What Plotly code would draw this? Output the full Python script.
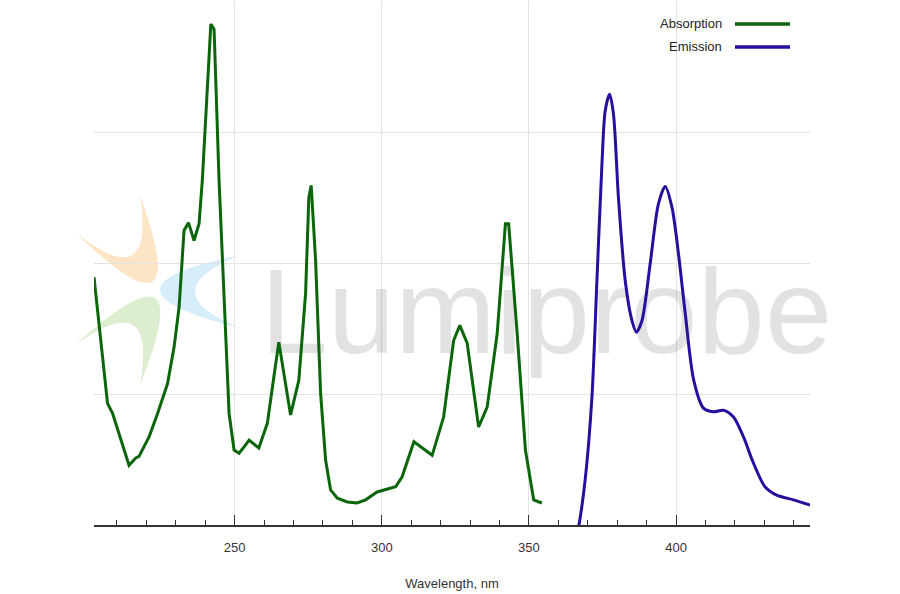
import plotly.graph_objects as go

# ---- data ----
abs_wl = [202.2, 206.8, 208.5, 210.7, 214.1, 216.4, 217.5, 220.9, 223.8, 227.2,
          229.4, 231.1, 232.8, 234.3, 236.2, 237.9, 239.0, 241.9, 243.0, 244.7,
          245.8, 246.9, 248.1, 249.8, 251.5, 253.2, 254.9, 258.2, 261.1, 263.3,
          265.0, 269.0, 271.8, 274.1, 275.2, 276.0, 277.5, 279.2, 280.9, 282.6,
          284.9, 288.3, 291.6, 294.5, 298.4, 304.7, 306.9, 310.9, 317.1, 321.0,
          324.4, 326.5, 329.0, 332.9, 335.8, 339.2, 342.0, 343.1, 346.0, 348.8,
          351.6, 354.4]
abs_val = [0.473, 0.232, 0.213, 0.175, 0.114, 0.128, 0.131, 0.168, 0.213, 0.270,
           0.339, 0.415, 0.562, 0.577, 0.543, 0.575, 0.657, 0.956, 0.946, 0.657,
           0.511, 0.339, 0.213, 0.143, 0.137, 0.149, 0.162, 0.147, 0.194, 0.282,
           0.349, 0.210, 0.276, 0.442, 0.625, 0.648, 0.505, 0.251, 0.124, 0.067,
           0.051, 0.044, 0.042, 0.048, 0.063, 0.073, 0.092, 0.159, 0.133, 0.206,
           0.352, 0.381, 0.347, 0.187, 0.225, 0.365, 0.575, 0.575, 0.365, 0.143,
           0.048, 0.042]

em_wl = [365.5, 366.9, 369.1, 371.4, 373.1, 374.8, 375.9, 377.4, 378.7, 380.4,
         382.7, 385.0, 386.5, 388.4, 391.2, 394.0, 396.3, 398.6, 400.8, 403.1,
         406.0, 409.3, 412.7, 416.1, 419.5, 422.9, 426.3, 430.2, 434.2, 439.9,
         445.5]
em_val = [-0.04, -0.003, 0.086, 0.244, 0.467, 0.689, 0.790, 0.822, 0.785, 0.625,
          0.467, 0.390, 0.368, 0.390, 0.499, 0.613, 0.646, 0.606, 0.518, 0.404,
          0.276, 0.223, 0.216, 0.219, 0.206, 0.168, 0.118, 0.073, 0.057, 0.048,
          0.038]

series_names = ["Absorption", "Emission"]
series_colors = ["#0b650b", "#2a0c9e"]
x_title = "Wavelength, nm"
watermark = "Lumiprobe"

W, H = 900, 594
ML, MR, MT, MB = 94, 90, 1, 69
PW, PH = W - ML - MR, H - MT - MB


def px(x, y):
    """pixel -> paper coordinates (decoration only)"""
    return (x - ML) / PW, (H - MB - y) / PH


def petal(t1, oc, t2, ic):
    pts = [px(*p) for p in (t1, oc, t2, ic)]
    s = "M {:.4f},{:.4f} Q {:.4f},{:.4f} {:.4f},{:.4f} Q {:.4f},{:.4f} {:.4f},{:.4f} Z"
    return s.format(pts[0][0], pts[0][1], pts[1][0], pts[1][1], pts[2][0], pts[2][1],
                    pts[3][0], pts[3][1], pts[0][0], pts[0][1])


fig = go.Figure()

# watermark text (behind the curves)
fig.add_trace(go.Scatter(
    x=[355.9], y=[0.386], mode="text", text=[watermark], hoverinfo="skip",
    textfont=dict(family="Liberation Sans", size=121, color="rgba(0,0,0,0.115)"),
    cliponaxis=False, showlegend=False))

fig.add_trace(go.Scatter(x=abs_wl, y=abs_val, mode="lines", name=series_names[0],
                         line=dict(color=series_colors[0], width=3), showlegend=False))
fig.add_trace(go.Scatter(x=em_wl, y=em_val, mode="lines", name=series_names[1],
                         line=dict(color=series_colors[1], width=3, shape="spline",
                                   smoothing=0.8), showlegend=False))

shapes = [
    dict(type="path", xref="paper", yref="paper", layer="below", line=dict(width=0),
         fillcolor="rgba(250,185,100,0.38)",
         path=petal((76, 233), (196, 350), (140, 195), (156, 296))),
    dict(type="path", xref="paper", yref="paper", layer="below", line=dict(width=0),
         fillcolor="rgba(150,200,110,0.32)",
         path=petal((75, 345), (202, 231), (140, 385), (158, 285))),
    dict(type="path", xref="paper", yref="paper", layer="below", line=dict(width=0),
         fillcolor="rgba(130,200,235,0.32)",
         path=petal((240, 255), (80, 288), (240, 328), (150, 292))),
]

annotations = []
for i, (name, col) in enumerate(zip(series_names, series_colors)):
    yy = 24 + 23 * i
    x0, y0 = px(735, yy)
    x1, _ = px(790, yy)
    xt, _ = px(724, yy)
    shapes.append(dict(type="line", xref="paper", yref="paper", x0=x0, x1=x1, y0=y0, y1=y0,
                       line=dict(color=col, width=3.5)))
    annotations.append(dict(xref="paper", yref="paper", x=xt, y=y0, text=name,
                            xanchor="right", yanchor="middle", showarrow=False,
                            font=dict(family="Liberation Sans", size=13, color="#222")))

fig.update_layout(
    width=W, height=H,
    margin=dict(l=ML, r=MR, t=MT, b=MB),
    paper_bgcolor="white", plot_bgcolor="white",
    font=dict(family="Liberation Sans", size=13, color="#333"),
    shapes=shapes, annotations=annotations,
    xaxis=dict(range=[202.2, 445.5], tick0=250, dtick=50, ticks="inside", ticklen=10,
               tickcolor="#333", showline=True, linecolor="#333", linewidth=1.5,
               showgrid=True, gridcolor="#e3e3e3", gridwidth=1, zeroline=False,
               ticklabelstandoff=10,
               minor=dict(dtick=10, tick0=250, ticks="inside", ticklen=5, tickcolor="#333",
                          showgrid=False),
               title=dict(text=x_title, standoff=25, font=dict(size=13, color="#333")),
               tickfont=dict(size=13, color="#333")),
    yaxis=dict(range=[0, 1], dtick=0.25, showticklabels=False, ticks="", showline=False,
               showgrid=True, gridcolor="#e3e3e3", zeroline=False, fixedrange=True),
)

fig.write_html("out.html", config={"displayModeBar": False},
               post_script="document.body.style.margin='0px';document.body.style.overflow='hidden';")
